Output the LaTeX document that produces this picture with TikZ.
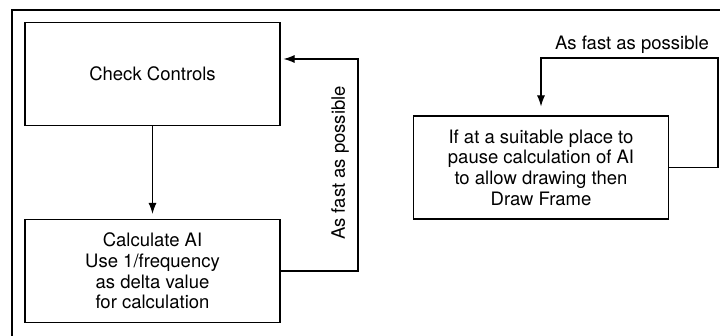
\documentclass[tikz,border=0pt]{standalone}
\usepackage{fontspec}
\setmainfont{TeX Gyre Heros}
\usetikzlibrary{arrows.meta}

\begin{document}
\begin{tikzpicture}[x=1pt,y=-1pt,>={Latex[length=11pt,width=8pt]},line width=1.1pt,
  font=\fontsize{18.5}{20.7}\selectfont,
  box/.style={draw,align=center,minimum width=255pt,minimum height=103pt,inner sep=0pt}]
 \useasboundingbox (0,0) rectangle (720,336);
 \clip (0,0) rectangle (720,336);
 % outer frame, cut by the page on the right and at the bottom
 \draw (12,340) -- (12,10) -- (724,10);
 \node[box] (check) at (152.5,74) {Check Controls};
 \node[box] (calc) at (152.5,271) {Calculate AI\\Use 1/frequency\\as delta value\\for calculation};
 \node[box] (frame) at (541,167.5) {If at a suitable place to\\pause calculation of AI\\to allow drawing then\\Draw Frame};
 \draw[->,shorten >=5pt] (check) -- (calc);
 % loop back on the left
 \coordinate (loopA) at (358,59);
 \draw[->,shorten >=3pt] (calc.east) -| (loopA) -- (check.east |- loopA);
 \node[rotate=90] (fastA) at (340,163) {As fast as possible};
 % loop on the right
 \coordinate (loopB) at (718,58);
 \draw[->,shorten >=9pt] (frame.east) -| (loopB) -| (frame.north);
 \node (fastB) at (632,45) {As fast as possible};
\end{tikzpicture}
\end{document}
